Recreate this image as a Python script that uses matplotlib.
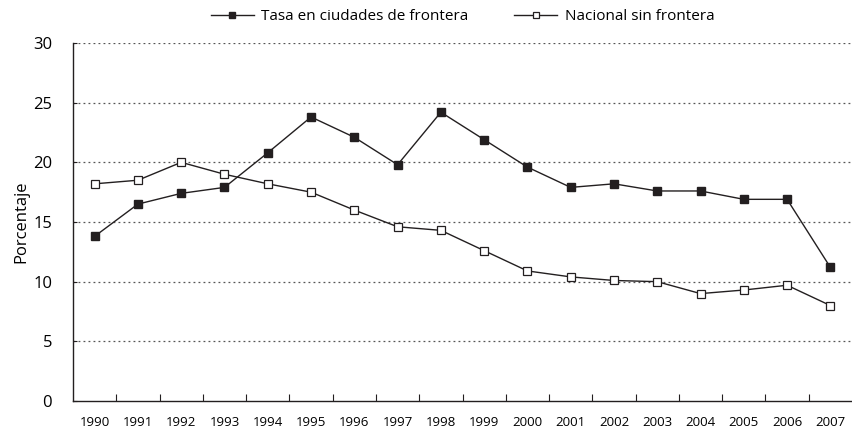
import numpy as np
import matplotlib
matplotlib.use("Agg")
import matplotlib.pyplot as plt

plt.rcParams['font.family'] = ['Open Sans', 'DejaVu Sans']

years = list(range(1990, 2008))
frontera = [13.8, 16.5, 17.4, 17.9, 20.8, 23.8, 22.1, 19.8, 24.2, 21.9,
            19.6, 17.9, 18.2, 17.6, 17.6, 16.9, 16.9, 11.2]
nacional = [18.2, 18.5, 20.0, 19.0, 18.2, 17.5, 16.0, 14.6, 14.3, 12.6,
            10.9, 10.4, 10.1, 10.0, 9.0, 9.3, 9.7, 8.0]
y_ticks = [0, 5, 10, 15, 20, 25, 30]

ink = '#231f20'
x = np.arange(len(years))

fig = plt.figure(figsize=(8.52, 4.33), dpi=100)
ax = fig.add_axes([0.0857, 0.0739, 0.9143, 0.8268])

ax.plot(x, frontera, color=ink, lw=1.0, marker='s', ms=5.5,
        mfc=ink, mec=ink, label='Tasa en ciudades de frontera')
ax.plot(x, nacional, color=ink, lw=1.0, marker='s', ms=5.5,
        mfc='white', mec=ink, mew=0.9, label='Nacional sin frontera')

ax.set_xlim(-0.5, len(years) - 0.5)
ax.set_ylim(0, 30)
ax.set_yticks(y_ticks)
for v in y_ticks[1:]:
    ax.axhline(v, color='#555555', lw=0.9, ls=(0, (1.5, 2.5)), zorder=0)

ax.set_xticks(x)
ax.set_xticklabels([str(y) for y in years], fontsize=9.5)
ax.set_xticks(x[:-1] + 0.5, minor=True)
ax.tick_params(axis='x', which='major', length=0, pad=11)
ax.tick_params(axis='x', which='minor', direction='in', length=5, width=0.8, color=ink)
ax.tick_params(axis='y', direction='in', length=3, width=0.8, labelsize=12, pad=15, color=ink)

for s in ['top', 'right']:
    ax.spines[s].set_visible(False)
for s in ['left', 'bottom']:
    ax.spines[s].set_color(ink)
    ax.spines[s].set_linewidth(1.0)

ax.set_ylabel('Porcentaje', fontsize=12, labelpad=3)

ax.legend(loc='lower center', bbox_to_anchor=(0.5, 1.035), ncol=2, frameon=False,
          fontsize=11, handlelength=2.8, columnspacing=3, markerscale=0.8,
          borderaxespad=0, handletextpad=0.5)

fig.savefig('out.png', dpi=100)
